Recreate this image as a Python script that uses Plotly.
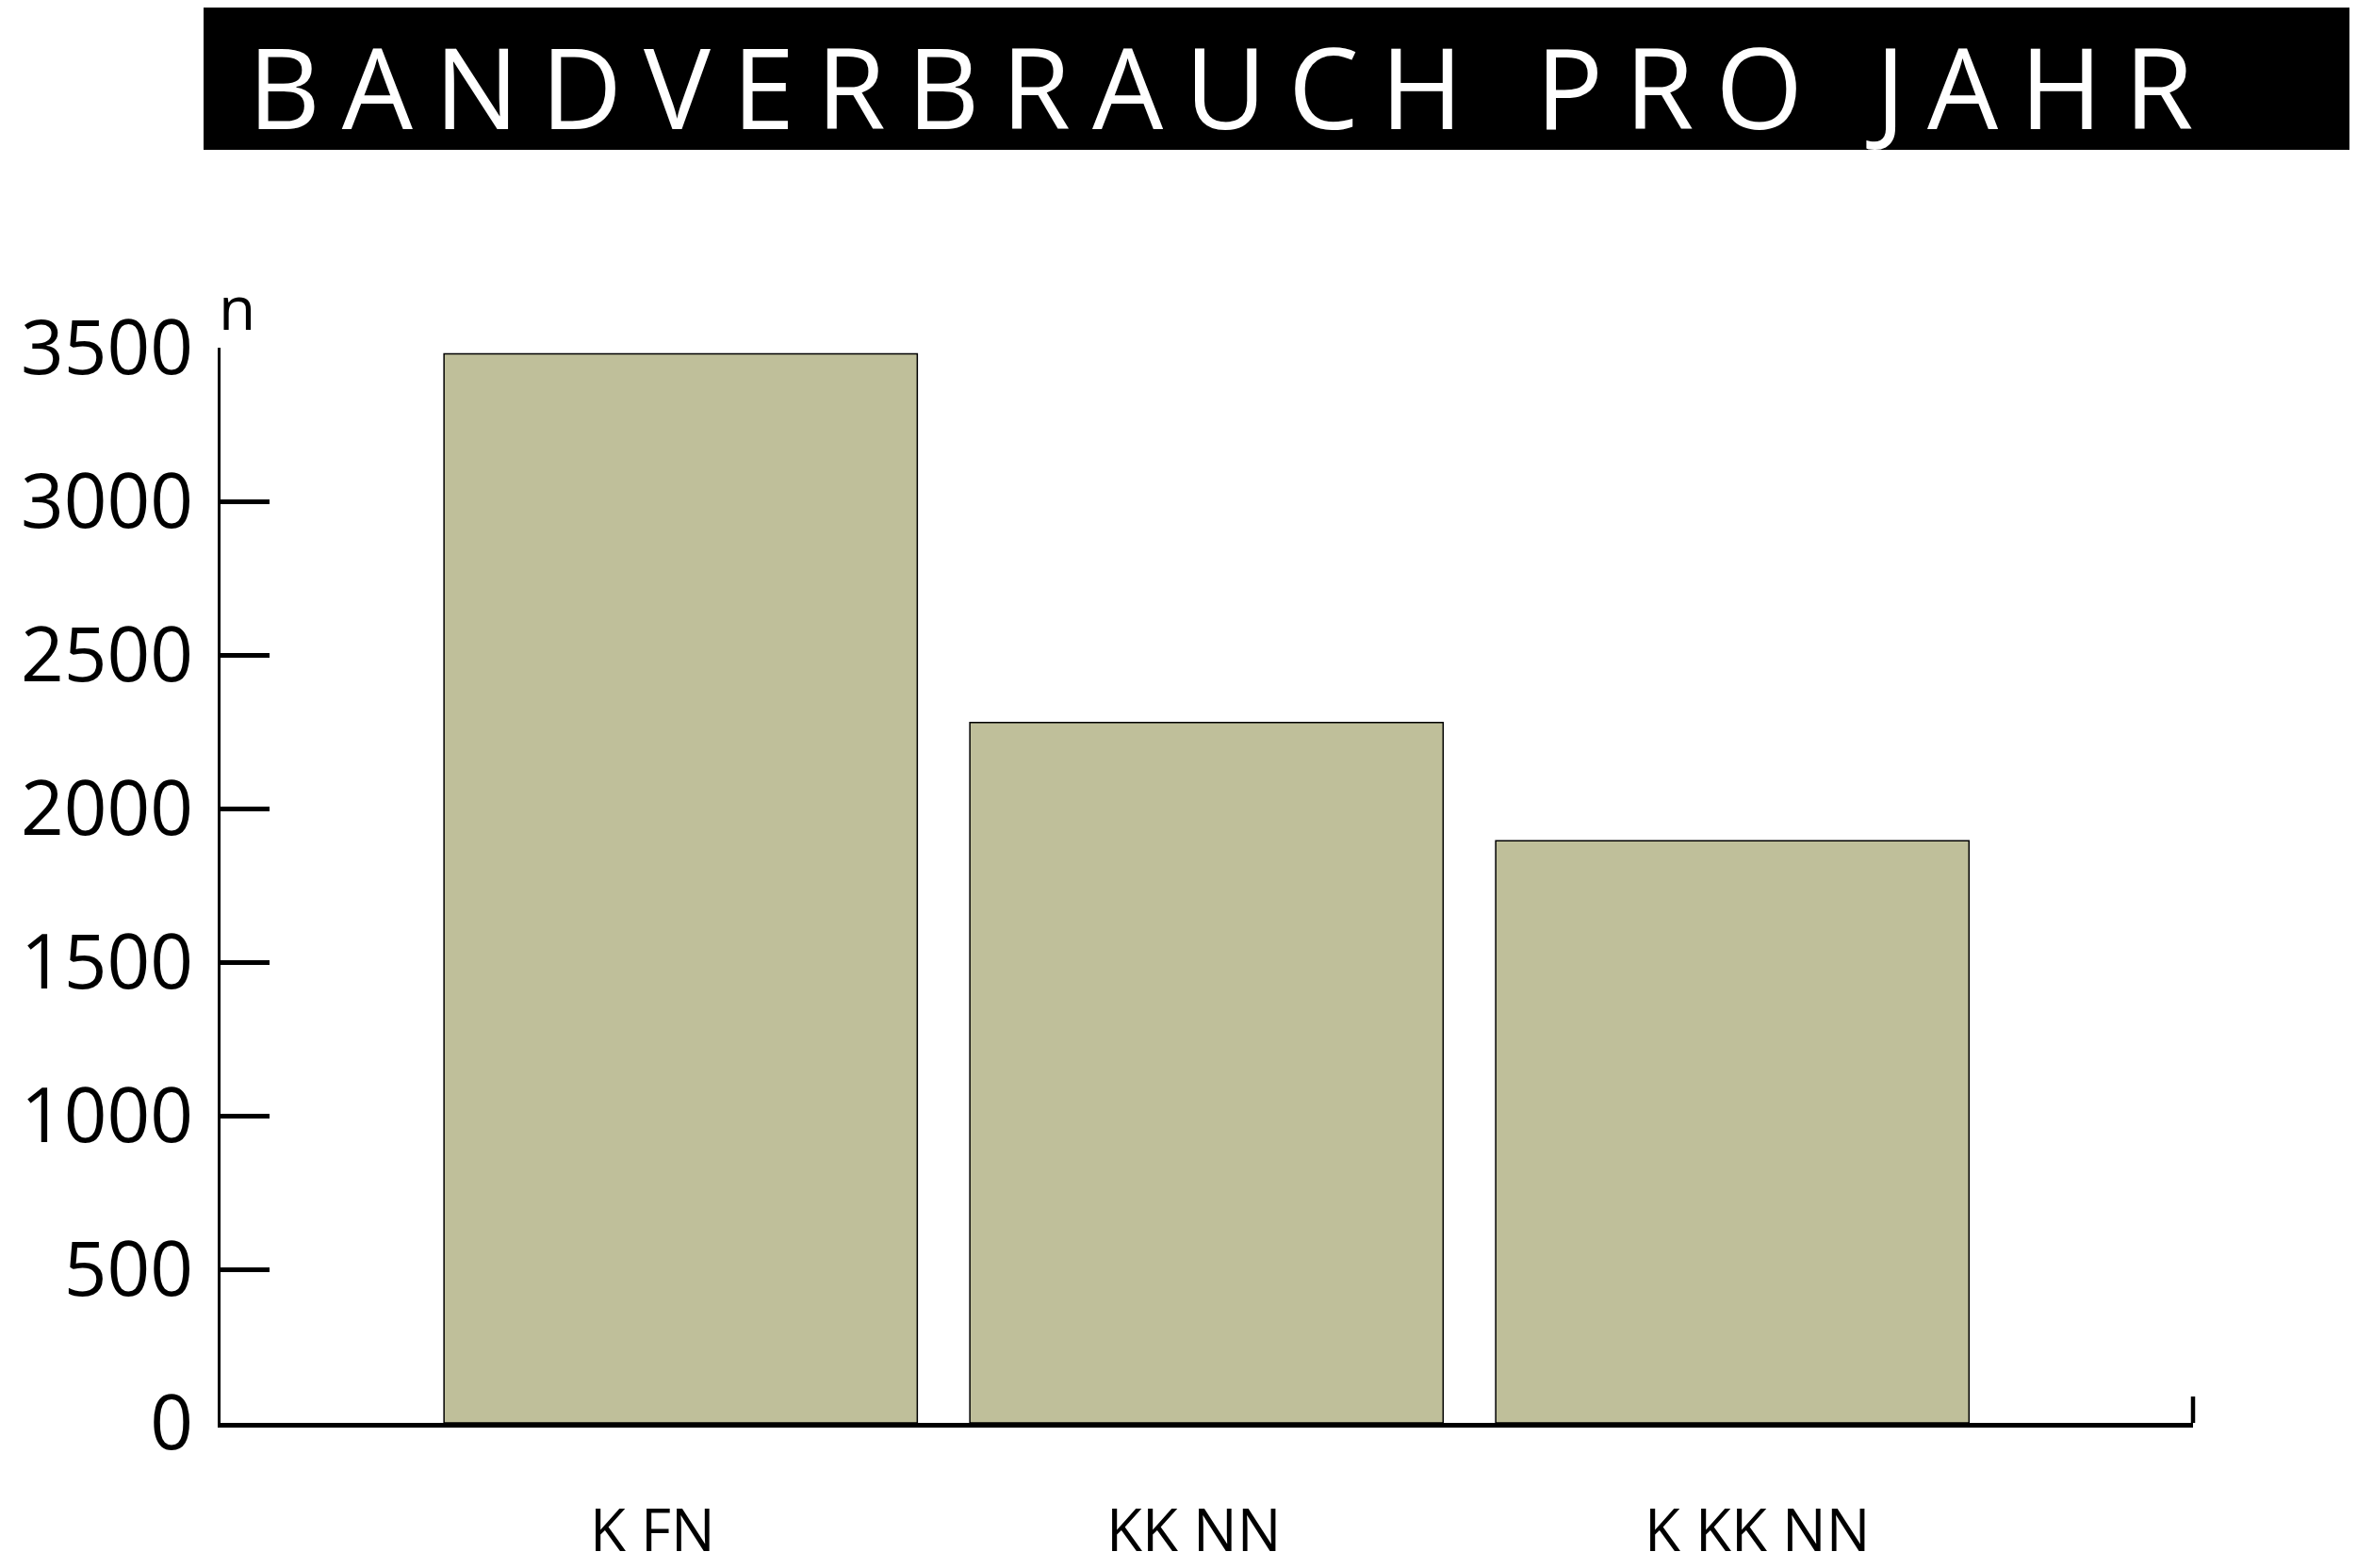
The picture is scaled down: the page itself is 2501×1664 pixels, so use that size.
#%%
import plotly.graph_objects as go

# Datos
kategorien = ['K FN', 'KK NN', 'K KK NN']
verbrauch = [3480, 2280, 1895]
y_ticks = [0, 500, 1000, 1500, 2000, 2500, 3000, 3500]
y_ticktext = [str(v) for v in y_ticks]
titel = 'BANDVERBRAUCH PRO JAHR'

FONT = 'Open Sans'

fig = go.Figure()

fig.add_trace(go.Bar(
    x=kategorien,
    y=verbrauch,
    width=0.9,
    marker=dict(color='#BFBF9A', line=dict(color='black', width=1.5)),
    showlegend=False,
))

# Beschriftungen der Kategorien (leicht versetzt wie im Original)
label_offset = [-0.054, -0.025, 0.048]
for i, (kat, off) in enumerate(zip(kategorien, label_offset)):
    fig.add_annotation(
        x=i + off, y=0, xref='x', yref='y',
        text=kat, showarrow=False,
        yanchor='middle', yshift=-112,
        font=dict(family=FONT, size=62, color='black'),
    )

# Einheit "n" über der y-Achse
fig.add_annotation(
    x=0, xref='x domain', xanchor='left', xshift=-4,
    y=3500, yref='y', yanchor='bottom', yshift=-2,
    text='n', showarrow=False,
    font=dict(family=FONT, size=64, color='black'),
)

# Titelbalken
fig.add_shape(
    type='rect', xref='paper', yref='paper',
    x0=-0.0086, x1=1.1, y0=1.184, y1=1.35,
    fillcolor='black', line=dict(width=0), layer='below',
)
fig.add_annotation(
    x=0.0135, xref='paper', xanchor='left',
    y=1.244, yref='paper', yanchor='middle',
    text=f'<span style="letter-spacing:23px">{titel}</span>',
    showarrow=False, borderpad=0,
    font=dict(family=FONT, size=119, color='white'),
)

# kleiner senkrechter Strich am Ende der x-Achse
fig.add_shape(
    type='line', xref='x domain', x0=1, x1=1,
    yref='y', ysizemode='pixel', yanchor=0, y0=0, y1=28,
    line=dict(color='black', width=4.5),
)

fig.update_layout(
    width=2501,
    height=1664,
    paper_bgcolor='white',
    plot_bgcolor='white',
    margin=dict(l=226, r=182, t=361, b=162),
    font=dict(family=FONT, color='black'),
    xaxis=dict(
        range=[-0.875, 2.876], automargin=False,
        showline=True, linecolor='black', linewidth=4.5,
        ticks='', showticklabels=False, showgrid=False, zeroline=False,
    ),
    yaxis=dict(
        range=[0, 3500], automargin=False,
        tickvals=y_ticks, ticktext=y_ticktext,
        showline=True, linecolor='black', linewidth=3,
        ticks='inside', ticklen=52, tickwidth=4.5, tickcolor='black',
        tickfont=dict(family=FONT, size=80, color='black'),
        ticklabelstandoff=10,
        showgrid=False, zeroline=False,
    ),
)

fig.write_html('out.html')
